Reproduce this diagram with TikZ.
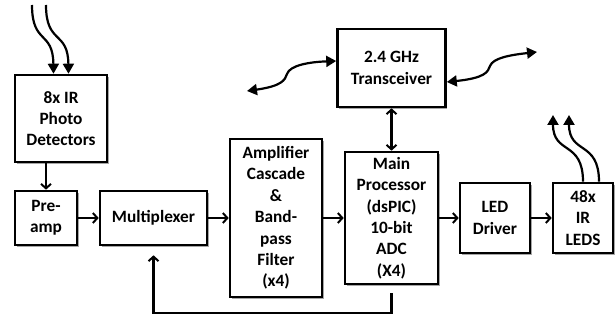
\documentclass[tikz,border=0pt]{standalone}
\usepackage{fontspec}
\setmainfont{Carlito}
\usetikzlibrary{arrows.meta,shadows}

\begin{document}
\begin{tikzpicture}[x=1pt,y=-1pt,
  block/.style={draw,line width=2.6pt,fill=white,align=center,inner sep=0pt,
    font=\fontsize{17.3}{21.4}\selectfont\bfseries,
    drop shadow={shadow xshift=1.8pt,shadow yshift=-1.8pt,fill=black!35,opacity=1}},
  conn/.style={line width=2.2pt,-{Straight Barb[length=4.5pt,width=10pt,line width=2pt]}},
  conn2/.style={line width=2.2pt,{Straight Barb[length=4.5pt,width=10pt,line width=2pt]}-{Straight Barb[length=4.5pt,width=10pt,line width=2pt]}},
  wave/.style={line width=2.2pt,-{Triangle[length=10pt,width=11pt]}},
  wave2/.style={line width=2.2pt,{Triangle[length=10pt,width=11pt]}-{Triangle[length=10pt,width=11pt]}}]
\useasboundingbox (0,0) rectangle (615,320);

% Draw blocks.
\node[block,minimum width=92pt,minimum height=87pt] (detect) at (61,118.5) {8x IR\\Photo\\Detectors};
\node[block,minimum width=62pt,minimum height=54pt] (preamp) at (46,218) {Pre-\\amp};
\node[block,minimum width=107pt,minimum height=54pt] (mux) at (153.5,218) {Multiplexer};
\node[block,minimum width=92pt,minimum height=158pt] (amp) at (276,218) {Amplifier\\Cascade\\\&\\Band-\\pass\\Filter\\(x4)};
\node[block,minimum width=93pt,minimum height=132pt] (proc) at (391.5,218) {Main\\Processor\\(dsPIC)\\10-bit\\ADC\\(X4)};
\node[block,minimum width=108pt,minimum height=78pt] (trx) at (391.5,68) {2.4 GHz\\Transceiver};
\node[block,minimum width=70pt,minimum height=70pt] (driver) at (495,218) {LED\\Driver};
\node[block,minimum width=60pt,minimum height=70pt] (leds) at (583,218) {48x\\IR\\LEDS};

% Free ends of the wavy arrows.
\coordinate (irA) at (32,5);
\coordinate (irB) at (46,5);
\coordinate (rfL) at (247,91);
\coordinate (rfR) at (537,52);
\coordinate (outA) at (553,115);
\coordinate (outB) at (569,115);
\coordinate (fb) at (153.5,313);

% Draw signal chain.
\draw[conn] (detect.south -| preamp) -- (preamp.north);
\draw[conn] (preamp) -- (mux);
\draw[conn] (mux) -- (amp);
\draw[conn] (amp) -- (proc);
\draw[conn] (proc) -- (driver);
\draw[conn] (driver) -- (leds);
\draw[conn2] (trx) -- (proc);

% Draw feedback to multiplexer.
\draw[conn,shorten <=8pt,shorten >=9pt] (proc.south) -- (proc.south |- fb) -- (fb) -- (mux.south);

% Draw incoming IR light.
\draw[wave] (irA) .. controls (32,45) and (53,30) .. ([xshift=-7.5pt]detect.north);
\draw[wave] (irB) .. controls (46,45) and (68,30) .. ([xshift=7.5pt]detect.north);

% Draw outgoing IR light.
\draw[wave] ([xshift=0pt]leds.north) .. controls (583,140) and (553,155) .. (outA);
\draw[wave] ([xshift=16pt]leds.north) .. controls (599,140) and (569,155) .. (outB);

% Draw radio links.
\draw[wave2] (rfL) .. controls (282,86) and (285,80) .. (287,74) .. controls (290,65) and (310,62) .. ([yshift=7pt]trx.west);
\draw[wave2] ([yshift=-14pt]trx.east) .. controls (485,78) and (488,72) .. (490,66) .. controls (493,58) and (510,55) .. (rfR);
\end{tikzpicture}
\end{document}
